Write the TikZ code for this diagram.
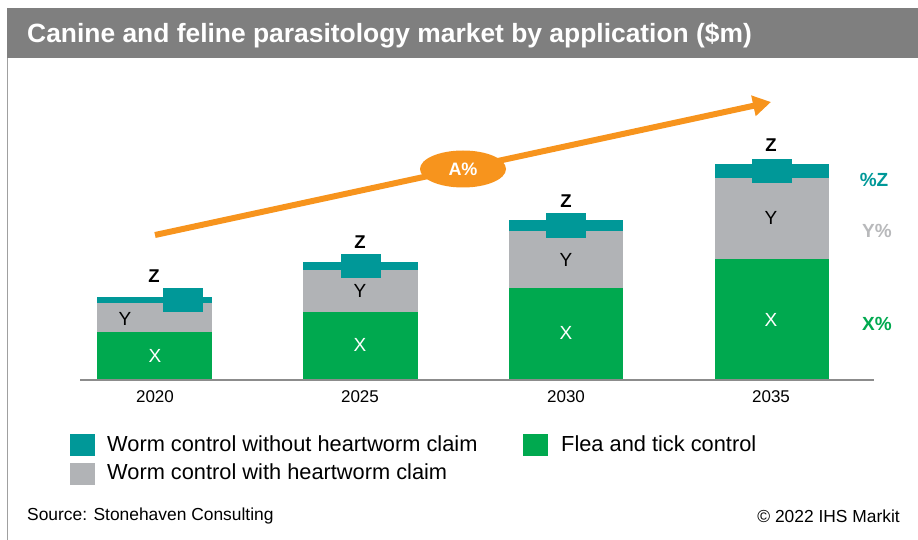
\documentclass[tikz,border=0pt]{standalone}
\usepackage{fontspec}
\setmainfont{Liberation Sans}
\usetikzlibrary{shapes.geometric,arrows.meta}
\definecolor{titlegray}{RGB}{127,127,127}
\definecolor{frame}{RGB}{160,160,160}
\definecolor{teal}{RGB}{0,152,152}
\definecolor{wgray}{RGB}{177,179,182}
\definecolor{green}{RGB}{0,169,79}
\definecolor{orange}{RGB}{247,148,29}
\definecolor{axisgray}{RGB}{140,140,140}
\definecolor{lblgray}{RGB}{184,185,187}
\tikzset{
  barlbl/.style={font=\fontsize{19}{19}\selectfont, inner sep=0pt},
  zlbl/.style={font=\fontsize{18.5}{18.5}\selectfont\bfseries, inner sep=0pt},
  yearlbl/.style={font=\fontsize{17}{17}\selectfont, inner sep=0pt},
  pctlbl/.style={font=\fontsize{19}{19}\selectfont\bfseries, inner sep=0pt},
  legtxt/.style={font=\fontsize{21.8}{22}\selectfont, inner sep=0pt, anchor=west},
  foot/.style={font=\fontsize{17.4}{18}\selectfont, inner sep=0pt},
}
\begin{document}
\begin{tikzpicture}[x=1pt,y=-1pt]
\useasboundingbox (0,0) rectangle (918,540);
% frame and title bar
\draw[frame, line width=1.2pt] (7.5,8) -- (7.5,540);
\fill[titlegray] (7,8) rectangle (918,58);
\node[anchor=base west, text=white, font=\fontsize{26.4}{26.4}\selectfont\bfseries, inner sep=0pt] (title) at (27,43)
  {Canine and feline parasitology market by application (\$m)};

% stacked bars: left, right, teal top, teal bottom, gray bottom, Z box top, Z box bottom, Z box left
\newcommand{\stackbar}[8]{%
  \fill[green] (#1,#5) rectangle (#2,379);
  \fill[wgray] (#1,#4) rectangle (#2,#5);
  \fill[teal] (#1,#3) rectangle (#2,#4);
  \fill[teal] (#8,#6) rectangle ({#8+40},#7);
}
\stackbar{97}{212}{297}{303}{332}{288}{312}{163}
\stackbar{303}{418}{262}{270}{312}{254}{278}{341}
\stackbar{509}{623}{220}{231}{288}{213}{238}{546}
\stackbar{715}{829}{164}{178}{259}{159}{183}{752}

% axis
\draw[axisgray, line width=2pt] (80,380) -- (874,380);

% bar labels
\node[zlbl] (z1) at (154,276) {Z};
\node[zlbl] (z2) at (360,242) {Z};
\node[zlbl] (z3) at (566,201) {Z};
\node[zlbl] (z4) at (771,145) {Z};
\node[barlbl] (y1) at (125,319) {Y};
\node[barlbl] (y2) at (360,291) {Y};
\node[barlbl] (y3) at (566,260) {Y};
\node[barlbl] (y4) at (771,218) {Y};
\node[barlbl, text=white] (x1) at (155,356) {X};
\node[barlbl, text=white] (x2) at (360,345) {X};
\node[barlbl, text=white] (x3) at (566,333) {X};
\node[barlbl, text=white] (x4) at (771,320) {X};

% years
\node[yearlbl] (yr1) at (155,397) {2020};
\node[yearlbl] (yr2) at (360,397) {2025};
\node[yearlbl] (yr3) at (566,397) {2030};
\node[yearlbl] (yr4) at (771,397) {2035};

% share labels
\node[pctlbl, text=teal] (pz) at (874,180) {\%Z};
\node[pctlbl, text=lblgray] (py) at (877,231) {Y\%};
\node[pctlbl, text=green] (px) at (877,324) {X\%};

% growth arrow
\coordinate (gstart) at (155,235);
\coordinate (gend) at (771,102);
\draw[orange, line width=6pt, -{Triangle[length=18pt,width=20pt]}] (gstart) -- (gend);
\node[ellipse, fill=orange, minimum width=86pt, minimum height=37pt, inner sep=0pt,
      text=white, font=\fontsize{18}{18}\selectfont\bfseries] (cagr) at (463,169) {A\%};

% legend
\fill[teal] (70,434) rectangle (95,456);
\fill[wgray] (70,463) rectangle (95,485);
\fill[green] (523,434) rectangle (548,456);
\node[legtxt] (l1) at (107,444) {Worm control without heartworm claim};
\node[legtxt] (l2) at (107,472) {Worm control with heartworm claim};
\node[legtxt] (l3) at (561,444) {Flea and tick control};

% footer
\node[foot, anchor=west] (src) at (27,516) {Source: Stonehaven Consulting};
\node[foot, anchor=east] (copy) at (900,516) {\textcopyright{} 2022 IHS Markit};
\end{tikzpicture}
\end{document}
